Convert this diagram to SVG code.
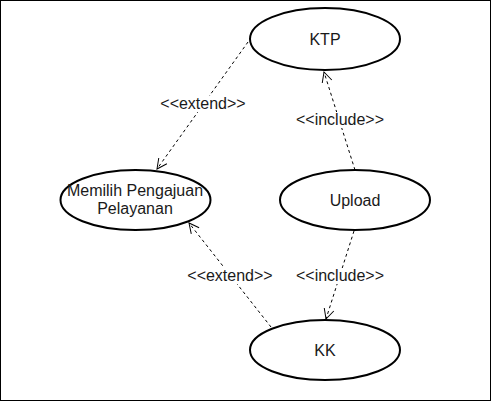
<svg xmlns="http://www.w3.org/2000/svg" width="491" height="401" viewBox="0 0 491 401">
<style>
.node ellipse{fill:#fff;stroke:#000;stroke-width:2}
.t{font-family:"Liberation Sans",Arial,sans-serif;font-size:16px;fill:#1a1a1a;text-anchor:middle}
.edge{fill:none;stroke:#000;stroke-width:1;stroke-dasharray:3,3}
.lbl{fill:#fff}
</style>
<defs>
<marker id="open" viewBox="0 0 12 12" refX="11" refY="6" markerWidth="12" markerHeight="12" markerUnits="userSpaceOnUse" orient="auto">
<path d="M1,1 L11,6 L1,11" fill="none" stroke="#000" stroke-width="1"/>
</marker>
</defs>
<rect x="0.5" y="0.5" width="490" height="400" fill="#fff" stroke="#000" stroke-width="1"/>
<g id="connectors">
<line class="edge" x1="248" y1="42" x2="157" y2="169" marker-end="url(#open)"/>
<line class="edge" x1="355" y1="170" x2="324" y2="72" marker-end="url(#open)"/>
<line class="edge" x1="271" y1="327" x2="189" y2="223" marker-end="url(#open)"/>
<line class="edge" x1="354" y1="231" x2="326" y2="319" marker-end="url(#open)"/>
<rect class="lbl" x="160" y="96" width="87" height="16"/>
<text class="t" x="203" y="109">&lt;&lt;extend&gt;&gt;</text>
<rect class="lbl" x="295" y="112" width="90" height="16"/>
<text class="t" x="340" y="125">&lt;&lt;include&gt;&gt;</text>
<rect class="lbl" x="187" y="268" width="87" height="16"/>
<text class="t" x="230" y="281">&lt;&lt;extend&gt;&gt;</text>
<rect class="lbl" x="295" y="268" width="90" height="16"/>
<text class="t" x="340" y="281">&lt;&lt;include&gt;&gt;</text>
</g>
<g id="ktp" class="node">
<ellipse cx="325" cy="39" rx="75" ry="31"/>
<text class="t" x="325" y="45">KTP</text>
</g>
<g id="memilih" class="node">
<ellipse cx="135.5" cy="200" rx="75" ry="30"/>
<text class="t" x="135" y="196">Memilih Pengajuan</text>
<text class="t" x="135" y="214">Pelayanan</text>
</g>
<g id="upload" class="node">
<ellipse cx="355" cy="200" rx="75" ry="30"/>
<text class="t" x="355" y="206">Upload</text>
</g>
<g id="kk" class="node">
<ellipse cx="325" cy="350" rx="75" ry="30"/>
<text class="t" x="325" y="356">KK</text>
</g>
</svg>
